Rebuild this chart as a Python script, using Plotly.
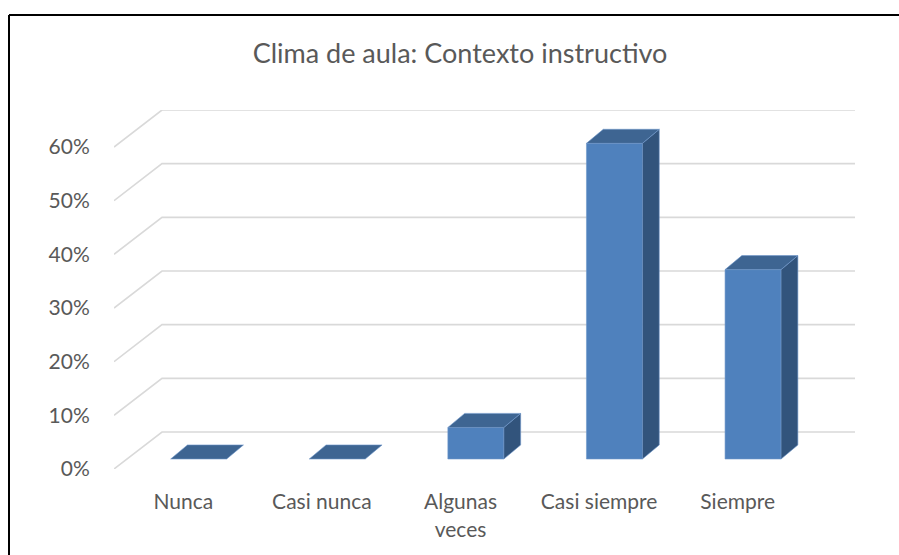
import plotly.graph_objects as go

# ---- data ----
categories = ["Nunca", "Casi nunca", "Algunas veces", "Casi siempre", "Siempre"]
tick_text = ["Nunca", "Casi nunca", "Algunas<br>veces", "Casi siempre", "Siempre"]
values = [0.0, 0.0, 5.88, 58.82, 35.29]   # percent
y_ticks = [0, 10, 20, 30, 40, 50, 60]
title = "Clima de aula: Contexto instructivo"

# ---- geometry (oblique 3D projection, in axis units) ----
ML, MR, MT, MB = 114, 44, 110, 86
W, H = 899, 555
pw, ph = W - ML - MR, H - MT - MB
ymax_front = 60
px_per_pct = 322 / 60.0
DY = ph / px_per_pct - ymax_front          # depth offset in % units
px_per_cat = 138.6
DX = pw / px_per_cat - 5                    # depth offset in category units
f_front, f_back = 0.32, 0.67                # bar depth fractions (x)
fy_front, fy_back = 0.27, 0.65              # bar depth fractions (y)
bw = 56 / px_per_cat

FRONT = "#4f81bd"
TOP = "#3e6592"
SIDE = "#32547c"
EDGE = "#6f97cb"
GRID = "#d9d9d9"
TXT = "#595959"
FONT = "Lato"

fig = go.Figure()

# gridlines: left side wall + back wall
for v in y_ticks:
    fig.add_trace(go.Scatter(
        x=[-0.5, -0.5 + DX, 4.5 + DX], y=[v, v + DY, v + DY],
        mode="lines", line=dict(color=GRID, width=1.6),
        hoverinfo="skip", showlegend=False))

def poly(xs, ys, color):
    fig.add_trace(go.Scatter(
        x=xs + [xs[0]], y=ys + [ys[0]], mode="lines", fill="toself",
        fillcolor=color, line=dict(color=EDGE, width=0.6),
        hoverinfo="skip", showlegend=False))

for i, v in enumerate(values):
    x0 = i + f_front * DX - bw / 2
    x1 = x0 + bw
    y0 = fy_front * DY
    ddx = (f_back - f_front) * DX
    ddy = (fy_back - fy_front) * DY
    if v > 0:
        poly([x0, x1, x1, x0], [y0, y0, y0 + v, y0 + v], FRONT)
        poly([x1, x1 + ddx, x1 + ddx, x1], [y0, y0 + ddy, y0 + ddy + v, y0 + v], SIDE)
    poly([x0, x1, x1 + ddx, x0 + ddx], [y0 + v, y0 + v, y0 + ddy + v, y0 + ddy + v], TOP)

# chart border (left and top edges visible)
bx = (9 - ML) / pw
by = (H - MB - 15) / ph
fig.add_shape(type="line", xref="paper", yref="paper", x0=bx, x1=bx, y0=-0.5, y1=by,
              line=dict(color="black", width=2))
fig.add_shape(type="line", xref="paper", yref="paper", x0=bx, x1=1.2, y0=by, y1=by,
              line=dict(color="black", width=2))

fig.update_layout(
    width=W, height=H,
    margin=dict(l=ML, r=MR, t=MT, b=MB),
    paper_bgcolor="white", plot_bgcolor="white",
    title=dict(text=title, x=460 / W, xref="container", xanchor="center",
               y=1 - 54 / H, yref="container", yanchor="middle",
               font=dict(family=FONT, size=27, color=TXT)),
    xaxis=dict(range=[-0.5, 4.5 + DX], tickmode="array", tickvals=list(range(5)),
               ticktext=tick_text, showgrid=False, zeroline=False, showline=False,
               ticks="outside", ticklen=14, tickcolor="rgba(0,0,0,0)",
               tickfont=dict(family=FONT, size=21, color=TXT), fixedrange=True),
    yaxis=dict(range=[0, ymax_front + DY], tickmode="array", tickvals=y_ticks,
               ticktext=[f"{t}%" for t in y_ticks], showgrid=False, zeroline=False,
               showline=False, ticks="outside", ticklen=19, tickcolor="rgba(0,0,0,0)",
               tickfont=dict(family=FONT, size=21, color=TXT), fixedrange=True),
    showlegend=False,
)

fig.write_html("out.html", config={"displayModeBar": False},
               post_script="document.body.style.margin='0';document.body.style.overflow='hidden';")
